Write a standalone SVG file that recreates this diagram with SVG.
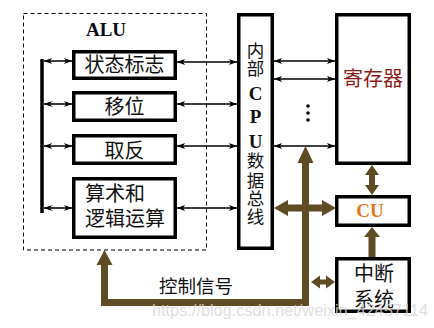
<svg xmlns="http://www.w3.org/2000/svg" width="434" height="328" viewBox="0 0 434 328">
<defs>
<style>
.box{fill:#fff;stroke:#000;stroke-width:3.5}
.thin{stroke:#000;stroke-width:1.5;fill:none;marker-start:url(#ah);marker-end:url(#ah)}
.cn{font-family:"Noto Sans CJK SC","Noto Sans",sans-serif;fill:#111;text-anchor:middle}
.lat{font-family:"Liberation Serif",serif;font-weight:bold;text-anchor:middle}
.brown{fill:#5f4b24}
</style>
<marker id="ah" viewBox="0 0 8 6" refX="8" refY="3" markerWidth="8" markerHeight="6" markerUnits="userSpaceOnUse" orient="auto-start-reverse">
<path d="M0,0 L8,3 L0,6 L2,3 Z" fill="#000"/>
</marker>
</defs>
<rect width="434" height="328" fill="#fff"/>

<g id="alu-frame">
<rect x="23.5" y="13.5" width="183" height="236.5" fill="none" stroke="#000" stroke-width="1" stroke-dasharray="4,3"/>
<text x="106" y="36" class="lat" font-size="19" fill="#0d0d1a">ALU</text>
</g>

<g id="flags">
<rect class="box" x="73.75" y="51.75" width="101.5" height="26.5"/>
<text class="cn" x="124.5" y="72" font-size="20">状态标志</text>
</g>
<g id="shift">
<rect class="box" x="73.75" y="92.75" width="101.5" height="27.5"/>
<text class="cn" x="124.5" y="114" font-size="20">移位</text>
</g>
<g id="negate">
<rect class="box" x="73.75" y="135.75" width="101.5" height="27.5"/>
<text class="cn" x="124.5" y="157.5" font-size="20">取反</text>
</g>
<g id="arith">
<rect class="box" x="73.75" y="178.75" width="101.5" height="58.5"/>
<text class="cn" x="85" y="201" font-size="20" style="text-anchor:start">算术和</text>
<text class="cn" x="85" y="226" font-size="20" style="text-anchor:start">逻辑运算</text>
</g>

<g id="bus">
<rect class="box" x="238.75" y="14.75" width="33.5" height="233.5"/>
<text class="cn" x="255.5" y="57" font-size="17.5">内</text>
<text class="cn" x="255.5" y="74.5" font-size="17.5">部</text>
<text class="lat" x="255.5" y="100" font-size="19" fill="#111">C</text>
<text class="lat" x="255.5" y="123" font-size="19" fill="#111">P</text>
<text class="lat" x="255.5" y="148" font-size="19" fill="#111">U</text>
<text class="cn" x="255.5" y="167" font-size="17.5">数</text>
<text class="cn" x="255.5" y="186.5" font-size="17.5">据</text>
<text class="cn" x="255.5" y="204.5" font-size="17.5">总</text>
<text class="cn" x="255.5" y="222.5" font-size="17.5">线</text>
</g>

<g id="registers">
<rect class="box" x="336.75" y="14.75" width="72.5" height="148.5"/>
<text class="cn" x="373" y="86" font-size="20" style="fill:#8b1a1a">寄存器</text>
<circle cx="308" cy="106" r="1.8" fill="#000"/>
<circle cx="308" cy="113" r="1.8" fill="#000"/>
<circle cx="308" cy="120" r="1.8" fill="#000"/>
</g>

<g id="cu">
<rect class="box" x="336.75" y="196.75" width="72.5" height="28.5"/>
<text class="lat" x="370" y="217" font-size="19" fill="#e07820">CU</text>
</g>

<g id="interrupt">
<rect class="box" x="336.75" y="258.75" width="72.5" height="52.5"/>
<text class="cn" x="374" y="280.5" font-size="20">中断</text>
<text class="cn" x="374" y="306.5" font-size="20">系统</text>
</g>

<g id="connectors">
<line x1="42" y1="59" x2="42" y2="213" stroke="#000" stroke-width="3.5"/>
<line class="thin" x1="44" y1="61" x2="72" y2="61"/>
<line class="thin" x1="44" y1="104" x2="72" y2="104"/>
<line class="thin" x1="44" y1="146" x2="72" y2="146"/>
<line class="thin" x1="44" y1="208" x2="72" y2="208"/>
<line class="thin" x1="177" y1="62" x2="237" y2="62"/>
<line class="thin" x1="177" y1="104" x2="237" y2="104"/>
<line class="thin" x1="177" y1="146" x2="237" y2="146"/>
<line class="thin" x1="177" y1="208" x2="237" y2="208"/>
<line class="thin" x1="274" y1="61" x2="335" y2="61"/>
<line class="thin" x1="274" y1="79" x2="335" y2="79"/>
<line class="thin" x1="274" y1="146" x2="335" y2="146"/>

<path class="brown" d="M305.5,146 L313.5,163 L309,163 L309,306 L101,306 L101,265 L96.5,265 L104.5,250 L112.5,265 L108,265 L108,299 L302,299 L302,163 L297.5,163 Z"/>
<path class="brown" d="M274,208 L288,200 L288,204.5 L322,204.5 L322,200 L336,208 L322,216 L322,211.5 L288,211.5 L288,216 Z"/>
<path class="brown" d="M311,282 L320,275.5 L320,279.5 L326,279.5 L326,275.5 L335,282 L326,288.5 L326,284.5 L320,284.5 L320,288.5 Z"/>
<path class="brown" d="M372,165 L379,175 L375,175 L375,185 L379,185 L372,195 L365,185 L369,185 L369,175 L365,175 Z"/>
<path class="brown" d="M372,227 L380,237 L375.5,237 L375.5,257 L368.5,257 L368.5,237 L364,237 Z"/>

<text class="cn" x="196" y="293" font-size="18.5">控制信号</text>
</g>

<text x="152" y="316" font-family="Liberation Sans,Arial,sans-serif" font-size="17" fill="#d8d8d8" fill-opacity="0.85" textLength="276" lengthAdjust="spacingAndGlyphs">https://blog.csdn.net/weixin_42457114</text>
</svg>
